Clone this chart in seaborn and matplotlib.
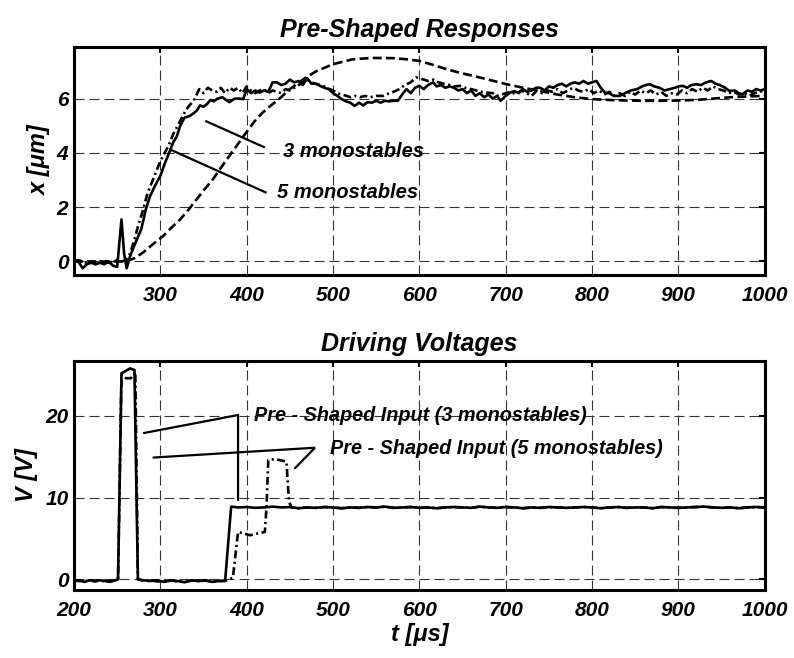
import matplotlib
matplotlib.use("Agg")
import matplotlib.pyplot as plt
import seaborn as sns

# ---------------- data: top panel (x [um] vs t [us]) ----------------
solid_top_t = [200, 205, 210, 215, 220, 225, 230, 235, 240, 245, 250, 255, 258, 261, 265, 270, 278, 283, 288, 294,
               300, 305, 311, 315, 319, 323, 328, 334, 338, 342, 346, 350, 354, 358, 362, 366, 372, 376, 380, 386,
               392, 396, 400, 405, 410, 415, 420, 425, 430, 435, 440, 445, 450, 455, 460, 465, 470, 475, 480, 485,
               490, 495, 500, 505, 510, 515, 520, 525, 530, 535, 540, 545, 550, 555, 560, 565, 570, 575, 580, 585,
               590, 595, 600, 605, 610, 616, 620, 625, 630, 635, 640, 645, 650, 655, 660, 665, 670, 675, 680, 685,
               690, 694, 700, 705, 710, 715, 720, 725, 730, 735, 740, 745, 750, 755, 760, 765, 770, 775, 780, 785,
               790, 795, 800, 805, 810, 815, 820, 825, 832, 838, 845, 852, 858, 862, 867, 872, 878, 884, 890, 896,
               900, 905, 910, 915, 921, 926, 932, 938, 943, 948, 954, 959, 965, 970, 974, 980, 985, 990, 995, 1000]
solid_top_x = [0.05, 0.0, -0.25, -0.1, -0.05, -0.1, -0.05, -0.1, 0.0, -0.15, -0.2, 1.55, 0.3, -0.25, 0.2, 0.6, 1.2, 1.9, 2.4, 2.8,
               3.15, 3.6, 4.07, 4.4, 4.6, 5.0, 5.3, 5.36, 5.45, 5.55, 5.75, 5.7, 5.8, 5.95, 5.9, 6.0, 6.05, 5.95, 5.87, 6.0,
               6.0, 5.98, 6.35, 6.2, 6.3, 6.22, 6.3, 6.25, 6.6, 6.6, 6.5, 6.55, 6.7, 6.6, 6.65, 6.5, 6.75, 6.55, 6.55, 6.47,
               6.4, 6.35, 6.2, 6.1, 5.98, 5.9, 5.85, 5.73, 5.85, 5.75, 5.87, 5.85, 5.92, 5.85, 5.92, 5.9, 5.92, 5.92, 6.15, 6.35,
               6.2, 6.4, 6.47, 6.35, 6.5, 6.6, 6.45, 6.5, 6.4, 6.45, 6.4, 6.3, 6.35, 6.2, 6.3, 6.1, 6.2, 6.05, 6.15, 6.0,
               6.1, 5.92, 6.1, 6.22, 6.28, 6.2, 6.35, 6.25, 6.3, 6.4, 6.4, 6.3, 6.45, 6.4, 6.5, 6.55, 6.45, 6.55, 6.6, 6.55,
               6.65, 6.55, 6.6, 6.65, 6.4, 6.22, 6.2, 6.1, 6.1, 6.2, 6.3, 6.35, 6.45, 6.5, 6.53, 6.45, 6.4, 6.3, 6.35, 6.4,
               6.45, 6.47, 6.4, 6.5, 6.53, 6.5, 6.6, 6.65, 6.55, 6.5, 6.4, 6.28, 6.3, 6.2, 6.16, 6.3, 6.25, 6.35, 6.3, 6.35]

dashdot_top_t = [200, 205, 210, 215, 220, 225, 230, 235, 240, 245, 250, 255, 260, 265, 270, 275, 280, 285, 290, 295,
                 300, 305, 310, 315, 320, 325, 330, 335, 340, 345, 350, 355, 360, 365, 370, 375, 380, 385, 390, 395,
                 400, 405, 410, 415, 420, 425, 430, 435, 440, 445, 450, 455, 460, 465, 470, 475, 480, 485, 490, 496,
                 500, 505, 510, 516, 520, 525, 531, 537, 543, 550, 558, 565, 570, 577, 583, 590, 596, 600, 605, 610,
                 616, 622, 628, 635, 641, 647, 653, 660, 666, 672, 678, 685, 690, 695, 700, 706, 712, 718, 724, 730,
                 736, 742, 748, 754, 760, 766, 772, 778, 784, 790, 796, 802, 808, 814, 820, 826, 832, 838, 844, 850,
                 856, 862, 868, 874, 880, 886, 892, 898, 904, 910, 916, 922, 928, 934, 940, 946, 952, 958, 964, 970,
                 976, 982, 988, 994, 1000]
dashdot_top_x = [0.0, 0.05, 0.0, -0.05, 0.0, -0.1, 0.0, 0.05, -0.05, 0.0, 0.05, 0.0, 0.05, 0.3, 0.8, 1.4, 1.9, 2.5, 2.9, 3.3,
                 3.7, 4.0, 4.3, 4.7, 5.0, 5.3, 5.6, 5.8, 6.0, 6.35, 6.2, 6.4, 6.3, 6.25, 6.4, 6.2, 6.4, 6.3, 6.4, 6.2,
                 6.45, 6.3, 6.2, 6.3, 6.35, 6.2, 6.3, 6.25, 6.2, 6.35, 6.3, 6.4, 6.5, 6.6, 6.7, 6.6, 6.55, 6.5, 6.45, 6.35,
                 6.3, 6.2, 6.15, 6.1, 6.05, 6.1, 6.05, 6.1, 6.05, 6.1, 6.1, 6.2, 6.25, 6.35, 6.5, 6.6, 6.78, 6.75, 6.7, 6.65,
                 6.7, 6.6, 6.55, 6.5, 6.45, 6.47, 6.4, 6.35, 6.3, 6.25, 6.22, 6.2, 6.1, 6.15, 6.2, 6.25, 6.15, 6.3, 6.2, 6.1,
                 6.3, 6.2, 6.3, 6.25, 6.35, 6.2, 6.3, 6.4, 6.3, 6.25, 6.35, 6.2, 6.3, 6.15, 6.25, 6.1, 6.2, 6.1, 6.25, 6.15,
                 6.3, 6.2, 6.3, 6.15, 6.25, 6.1, 6.2, 6.15, 6.3, 6.2, 6.35, 6.25, 6.4, 6.3, 6.45, 6.35, 6.3, 6.2, 6.25, 6.15,
                 6.2, 6.1, 6.2, 6.25, 6.3]

dashed_top_t = [200, 230, 260, 270, 280, 290, 303, 313, 323, 333, 342, 351, 361, 369, 377, 387, 396, 404, 411, 419,
                427, 438, 450, 465, 480, 500, 523, 545, 570, 585, 600, 615, 632, 647, 662, 680, 701, 720, 740, 760,
                780, 800, 820, 840, 860, 880, 900, 920, 940, 960, 980, 1000]
dashed_top_x = [0.0, 0.0, 0.0, 0.12, 0.33, 0.6, 0.93, 1.25, 1.55, 1.92, 2.29, 2.65, 3.03, 3.4, 3.76, 4.2, 4.6, 4.95, 5.24, 5.5,
                5.72, 6.0, 6.35, 6.7, 7.0, 7.27, 7.45, 7.5, 7.49, 7.45, 7.39, 7.25, 7.08, 6.95, 6.84, 6.7, 6.53, 6.4, 6.28, 6.15,
                6.05, 5.98, 5.95, 5.93, 5.92, 5.92, 5.93, 5.95, 6.0, 6.05, 6.08, 6.1]

# ---------------- data: bottom panel (V [V] vs t [us]) ----------------
flat_t = list(range(390, 1001, 10))
flat_v = [8.8, 8.85, 8.75, 8.8, 8.9, 8.8, 8.85, 8.7, 8.8, 8.75,
          8.85, 8.8, 8.7, 8.8, 8.75, 8.85, 8.8, 8.9, 8.75, 8.8,
          8.85, 8.75, 8.8, 8.7, 8.8, 8.85, 8.8, 8.75, 8.9, 8.8,
          8.75, 8.85, 8.8, 8.7, 8.8, 8.75, 8.85, 8.8, 8.75, 8.8,
          8.85, 8.8, 8.7, 8.8, 8.85, 8.75, 8.8, 8.8, 8.7, 8.85,
          8.8, 8.75, 8.8, 8.85, 8.9, 8.8, 8.75, 8.8, 8.7, 8.8,
          8.85, 8.8]

solid_bot_t = [200, 206, 212, 218, 224, 230, 236, 242, 248, 251, 255, 265, 270, 274, 280, 288, 296, 304, 312, 320,
               328, 336, 344, 352, 360, 368, 375, 382] + flat_t
solid_bot_v = [-0.2, -0.1, -0.3, -0.1, -0.25, -0.1, -0.2, -0.3, -0.1, 0.0, 25.2, 25.8, 25.6, 0.0, -0.1, -0.2, -0.1, -0.3, -0.15, -0.2,
               -0.35, -0.1, -0.2, -0.15, -0.3, -0.2, -0.2, 8.9] + flat_v

dashdot_bot_t = [200, 206, 212, 218, 224, 230, 236, 242, 248, 251, 255, 260, 266, 271, 274, 280, 288, 296, 304, 312,
                 320, 328, 336, 344, 352, 360, 368, 376, 384, 390, 397, 404, 412, 421, 423, 425, 432, 438, 446, 449,
                 452] + flat_t[7:]
dashdot_bot_v = [-0.15, -0.2, -0.25, -0.1, -0.2, -0.15, -0.25, -0.2, -0.1, 0.0, 25.0, 24.6, 24.6, 25.4, 0.0, -0.15, -0.1, -0.25, -0.2, -0.1,
                 -0.25, -0.3, -0.15, -0.2, -0.1, -0.25, -0.2, -0.15, 0.2, 5.8, 5.6, 5.4, 5.6, 5.8, 8.9, 14.6, 14.7, 14.6, 14.4, 9.5,
                 8.8] + flat_v[7:]

# annotation texts and leader lines
top_labels = ["3 monostables", "5 monostables"]
top_label_pos = [(442, 4.06), (435, 2.55)]
top_leaders = [([352, 421], [5.18, 4.2]), ([311, 423], [4.13, 2.53])]
bot_labels = ["Pre - Shaped Input (3 monostables)", "Pre - Shaped Input (5 monostables)"]
bot_label_pos = [(409, 20.0), (496, 16.0)]
bot_leaders = [([281, 390, 390], [17.9, 20.1, 9.7]), ([292, 479, 456], [14.9, 16.1, 13.6])]

# ---------------- style ----------------
sns.set_style("white")
plt.rcParams["font.family"] = ["Liberation Sans", "DejaVu Sans"]
plt.rcParams["font.weight"] = "bold"
plt.rcParams["font.style"] = "italic"
plt.rcParams["axes.titleweight"] = "bold"
plt.rcParams["axes.labelweight"] = "bold"
plt.rcParams["text.color"] = "black"
plt.rcParams["axes.labelcolor"] = "black"
plt.rcParams["axes.titlecolor"] = "black"
plt.rcParams["xtick.color"] = "black"
plt.rcParams["ytick.color"] = "black"

fig = plt.figure(figsize=(7.94, 6.58), dpi=100)
ax1 = fig.add_axes([0.0932, 0.582, 0.870, 0.3465])
ax2 = fig.add_axes([0.0932, 0.1033, 0.870, 0.348])

LW = 1.9
DASH = (0, (3.4, 1.6))
DASHDOT = (0, (3.0, 1.3, 0.8, 1.3))

sns.lineplot(x=dashed_top_t, y=dashed_top_x, ax=ax1, color="black", lw=LW, linestyle=DASH, legend=False)
sns.lineplot(x=dashdot_top_t, y=dashdot_top_x, ax=ax1, color="black", lw=LW, linestyle=DASHDOT, legend=False)
sns.lineplot(x=solid_top_t, y=solid_top_x, ax=ax1, color="black", lw=LW, linestyle="-", legend=False)

sns.lineplot(x=solid_bot_t, y=solid_bot_v, ax=ax2, color="black", lw=LW, linestyle="-", legend=False)
sns.lineplot(x=dashdot_bot_t, y=dashdot_bot_v, ax=ax2, color="black", lw=LW, linestyle=DASHDOT, legend=False)

for (lx, ly) in top_leaders:
    ax1.plot(lx, ly, color="black", lw=1.6, solid_capstyle="butt")
for txt, (px, py) in zip(top_labels, top_label_pos):
    ax1.text(px, py, txt, fontsize=14.5, ha="left", va="center", fontweight="bold", fontstyle="italic", color="black")
for (lx, ly) in bot_leaders:
    ax2.plot(lx, ly, color="black", lw=1.6, solid_joinstyle="miter")
for txt, (px, py) in zip(bot_labels, bot_label_pos):
    ax2.text(px, py, txt, fontsize=14.3, ha="left", va="center", fontweight="bold", fontstyle="italic", color="black")

ax1.set_xlim(200, 1000)
ax1.set_ylim(-0.5, 7.9)
ax1.set_xticks([300, 400, 500, 600, 700, 800, 900, 1000])
ax1.set_yticks([0, 2, 4, 6])
ax1.set_title("Pre-Shaped Responses", fontsize=18, pad=7)
ax1.set_ylabel("x [μm]", fontsize=17, labelpad=4)
ax1.set_xlabel("")

ax2.set_xlim(200, 1000)
ax2.set_ylim(-1.3, 26.7)
ax2.set_xticks([200, 300, 400, 500, 600, 700, 800, 900, 1000])
ax2.set_yticks([0, 10, 20])
ax2.set_title("Driving Voltages", fontsize=18, pad=7)
ax2.set_ylabel("V [V]", fontsize=17, labelpad=5)
ax2.set_xlabel("t [μs]", fontsize=17, labelpad=2)

for ax in (ax1, ax2):
    ax.grid(True, color="0.2", lw=0.8, linestyle=(0, (9, 4.5)))
    for s in ax.spines.values():
        s.set_visible(True)
        s.set_linewidth(2.2)
        s.set_color("black")
    ax.tick_params(direction="in", top=True, right=True, length=4, width=1.5,
                   labelsize=15, colors="black")
    ax.tick_params(axis="x", pad=8)
    ax.tick_params(axis="y", pad=4)
    for lab in ax.get_xticklabels() + ax.get_yticklabels():
        lab.set_fontweight("bold")
        lab.set_fontstyle("italic")
    ax.set_axisbelow(True)

fig.savefig("out.png", dpi=100, facecolor="white")
